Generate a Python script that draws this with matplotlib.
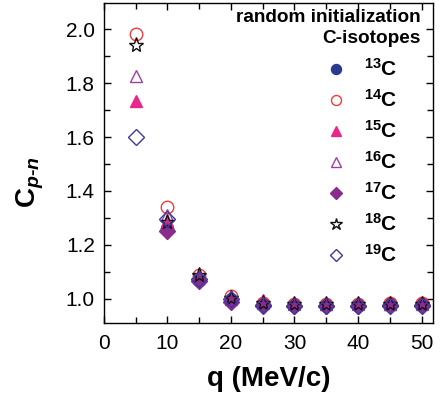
import numpy as np
import matplotlib
matplotlib.use("Agg")
import matplotlib.pyplot as plt
from matplotlib.ticker import MultipleLocator
from matplotlib.lines import Line2D

plt.rcParams['font.family'] = ['Liberation Sans', 'DejaVu Sans']
plt.rcParams['mathtext.fontset'] = 'custom'
plt.rcParams['mathtext.rm'] = 'Liberation Sans:bold'
plt.rcParams['mathtext.bf'] = 'Liberation Sans:bold'
plt.rcParams['mathtext.it'] = 'Liberation Sans:italic:bold'

nan = np.nan
q = [5, 10, 15, 20, 25, 30, 35, 40, 45, 50]
c13 = [nan, 1.26, 1.07, 0.995, 0.98, 0.978, 0.978, 0.978, 0.98, 0.98]
c14 = [1.98, 1.34, 1.09, 1.01, 0.985, 0.982, 0.982, 0.982, 0.983, 0.983]
c15 = [1.735, 1.29, 1.085, 1.005, 0.995, 0.985, 0.982, 0.983, 0.982, 0.983]
c16 = [1.825, 1.31, 1.08, 1.0, 0.985, 0.98, 0.98, 0.98, 0.98, 0.98]
c17 = [nan, 1.25, 1.065, 0.99, 0.975, 0.975, 0.975, 0.975, 0.978, 0.978]
c18 = [1.94, 1.285, 1.09, 1.005, 0.985, 0.98, 0.98, 0.98, 0.98, 0.98]
c19 = [1.60, 1.295, 1.075, 0.998, 0.978, 0.972, 0.972, 0.972, 0.975, 0.975]

labels = ['$^{13}$C', '$^{14}$C', '$^{15}$C', '$^{16}$C', '$^{17}$C', '$^{18}$C', '$^{19}$C']
series = [c13, c14, c15, c16, c17, c18, c19]
styles = [
    dict(marker='o', color='#2B3990', mfc='#2B3990', ms=9),
    dict(marker='o', color='#EE3B3B', mfc='none', ms=9),
    dict(marker='^', color='#E8268C', mfc='#E8268C', ms=9),
    dict(marker='^', color='#9B3FA3', mfc='none', ms=9),
    dict(marker='D', color='#8A2B8E', mfc='#8A2B8E', ms=8),
    dict(marker='*', color='#111111', mfc='none', ms=11),
    dict(marker='D', color='#3A3AA5', mfc='none', ms=8),
]

fig = plt.figure(figsize=(4.40, 3.98), dpi=100)
ax = fig.add_axes([0.236, 0.188, 0.748, 0.804])

handles = []
for vals, lab, st in zip(series, labels, styles):
    ax.plot(q, vals, linestyle='none', marker=st['marker'], color=st['color'],
            mfc=st['mfc'], mec=st['color'], ms=st['ms'], mew=1.0)
    handles.append(Line2D([], [], linestyle='none', marker=st['marker'], color=st['color'],
                          mfc=st['mfc'], mec=st['color'], ms=st['ms'] * 0.8, mew=1.0, label=lab))

ax.set_xlim(0, 51.8)
ax.set_ylim(0.91, 2.096)
ax.xaxis.set_major_locator(MultipleLocator(10))
ax.xaxis.set_minor_locator(MultipleLocator(5))
ax.yaxis.set_major_locator(MultipleLocator(0.2))
ax.yaxis.set_minor_locator(MultipleLocator(0.1))
ax.yaxis.set_major_formatter(matplotlib.ticker.FormatStrFormatter('%.1f'))
ax.tick_params(which='both', direction='in', top=True, right=True, width=1.0)
ax.tick_params(which='major', length=5, labelsize=15)
ax.tick_params(which='minor', length=4)
ax.tick_params(axis='x', which='major', pad=8)
ax.tick_params(axis='y', which='major', pad=6.5)
for s in ax.spines.values():
    s.set_linewidth(1.0)

ax.set_xlabel('q (MeV/c)', fontsize=20, fontweight='bold', labelpad=9)
ax.set_ylabel(r'C$_{p\text{-}n}$', fontsize=20, fontweight='bold')
ax.yaxis.set_label_coords(-0.175, 0.44)

ax.text(0.963, 0.955, 'random initialization', transform=ax.transAxes, ha='right', va='center',
        fontsize=13.7, fontweight='bold')
ax.text(0.963, 0.89, 'C-isotopes', transform=ax.transAxes, ha='right', va='center',
        fontsize=13.7, fontweight='bold')

leg = ax.legend(handles=handles, loc='upper right', bbox_to_anchor=(0.918, 0.855),
                frameon=False, prop={'size': 15, 'weight': 'bold'}, handletextpad=0.85,
                labelspacing=0.44, handlelength=1.0, borderaxespad=0)

fig.savefig('out.png', dpi=100)
